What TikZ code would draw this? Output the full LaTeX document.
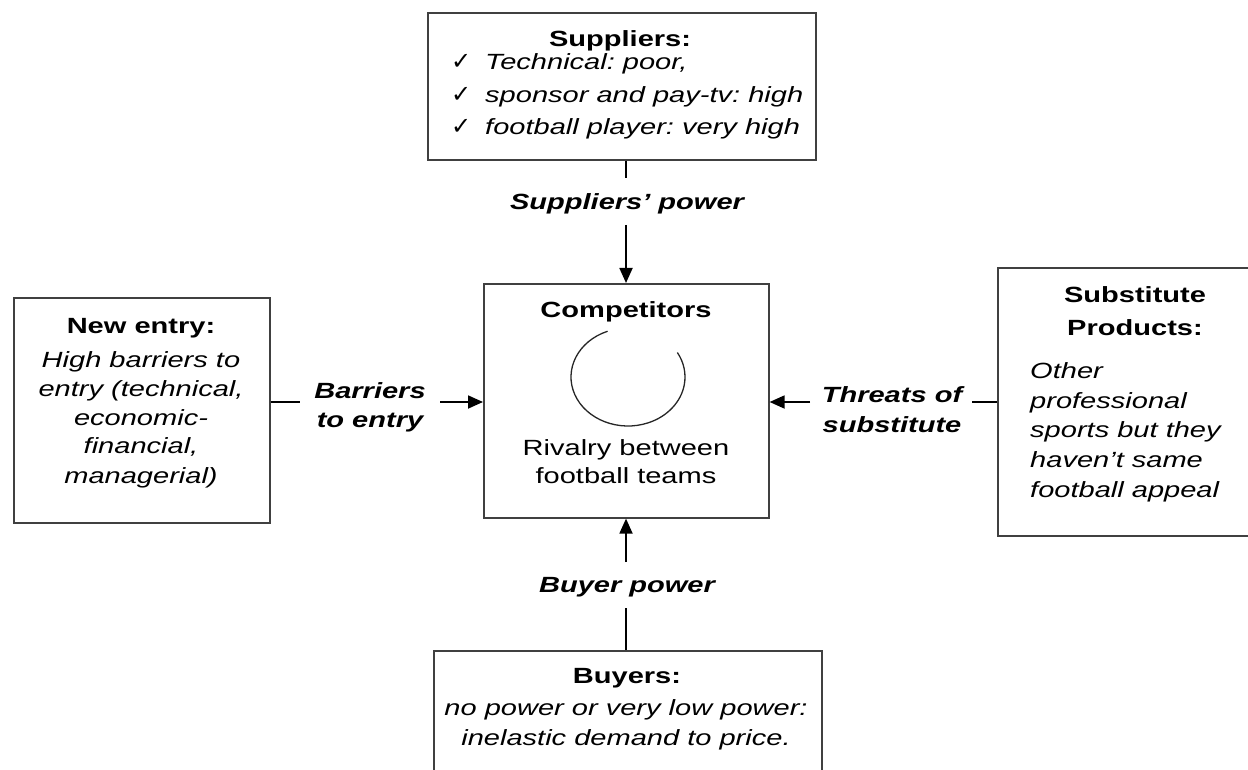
\documentclass[tikz,border=0pt]{standalone}
\usepackage{fontspec}
\setmainfont{Liberation Sans}[FakeStretch=1.32]
\newfontfamily\symfont{DejaVu Sans}
\usetikzlibrary{arrows.meta}
\begin{document}
\frenchspacing
\begin{tikzpicture}[x=1pt,y=-1pt,
  box/.style={draw=black!75, line width=1.6pt, inner sep=0pt, anchor=north west},
  conn/.style={line width=1.8pt, draw=black},
  arr/.style={conn, -{Triangle[length=15pt,width=13pt]}},
  tbase/.style={inner sep=0pt, anchor=base},
  tb/.style={tbase, font=\fontsize{22}{29}\selectfont\bfseries},
  ti/.style={tbase, font=\fontsize{22}{29}\selectfont\itshape},
  tn/.style={tbase, font=\fontsize{22}{29}\selectfont},
  tbi/.style={tbase, font=\fontsize{22}{29}\selectfont\bfseries\itshape},
  ck/.style={inner sep=0pt, anchor=base west, font=\symfont\fontsize{24}{26}\selectfont},
]
\useasboundingbox (0,0) rectangle (1248,770);

% boxes
\node[box, minimum width=388pt, minimum height=147pt] (sup) at (427,12) {};
\node[box, minimum width=285pt, minimum height=234pt] (comp) at (483,283) {};
\node[box, minimum width=256pt, minimum height=225pt] (new) at (13,297) {};
\node[box, minimum width=262pt, minimum height=268pt] (sub) at (997,267) {};
\node[box, minimum width=388pt, minimum height=140pt] (buy) at (433,650) {};

% suppliers text
\node[tb] (supT) at (620,47) {Suppliers:};
\node[ck] (ck1) at (451,70) {✓};
\node[ck] (ck2) at (451,103) {✓};
\node[ck] (ck3) at (451,135) {✓};
\node[ti, anchor=base west] (sup1) at (485,70) {Technical: poor,};
\node[ti, anchor=base west] (sup2) at (485,103) {sponsor and pay-tv: high};
\node[ti, anchor=base west] (sup3) at (485,135) {football player: very high};

% competitors text
\node[tb] (compT) at (626,317) {Competitors};
\draw[line width=1.3pt, black!85] (628,377) ++(-111:57 and 49)
  arc[start angle=-111, end angle=-390, x radius=57, y radius=49];
\node[tn] (comp1) at (626,455) {Rivalry between};
\node[tn] (comp2) at (626,483) {football teams};

% new entry text
\node[tb] (newT) at (141,333) {New entry:};
\node[ti] (new1) at (141,367) {High barriers to};
\node[ti] (new2) at (141,396) {entry (technical,};
\node[ti] (new3) at (141,425) {economic-};
\node[ti] (new4) at (141,453) {financial,};
\node[ti] (new5) at (141,483) {managerial)};

% substitute text
\node[tb] (subT1) at (1135,302) {Substitute};
\node[tb] (subT2) at (1135,335) {Products:};
\node[ti, anchor=base west] (sub1) at (1030,378) {Other};
\node[ti, anchor=base west] (sub2) at (1030,408) {professional};
\node[ti, anchor=base west] (sub3) at (1030,437) {sports but they};
\node[ti, anchor=base west] (sub4) at (1030,467) {haven’t same};
\node[ti, anchor=base west] (sub5) at (1030,497) {football appeal};

% buyers text
\node[tb] (buyT) at (627,683) {Buyers:};
\node[ti] (buy1) at (626,715) {no power or very low power:};
\node[ti] (buy2) at (626,745) {inelastic demand to price.};

% connector labels
\node[tbi] (splab) at (627,210) {Suppliers’ power};
\node[tbi] (belab1) at (370,398) {Barriers};
\node[tbi] (belab2) at (370,427) {to entry};
\node[tbi] (tslab1) at (892,402) {Threats of};
\node[tbi] (tslab2) at (892,432) {substitute};
\node[tbi] (bplab) at (627,592) {Buyer power};

% connectors
\coordinate (t1) at (626,178);
\draw[conn] (sup.south -| t1) -- (t1);
\coordinate (a1) at (626,225);
\draw[arr] (a1) -- (a1 |- comp.north);

\coordinate (t2) at (300,402);
\draw[conn] (t2 -| new.east) -- (t2);
\coordinate (a2) at (440,402);
\draw[arr] (a2) -- (a2 -| comp.west);

\coordinate (t3) at (972,402);
\draw[conn] (t3 -| sub.west) -- (t3);
\coordinate (a3) at (810,402);
\draw[arr] (a3) -- (a3 -| comp.east);

\coordinate (a4) at (626,562);
\draw[arr] (a4) -- (a4 |- comp.south);
\coordinate (t4) at (626,608);
\draw[conn] (t4) -- (t4 |- buy.north);
\end{tikzpicture}
\end{document}
